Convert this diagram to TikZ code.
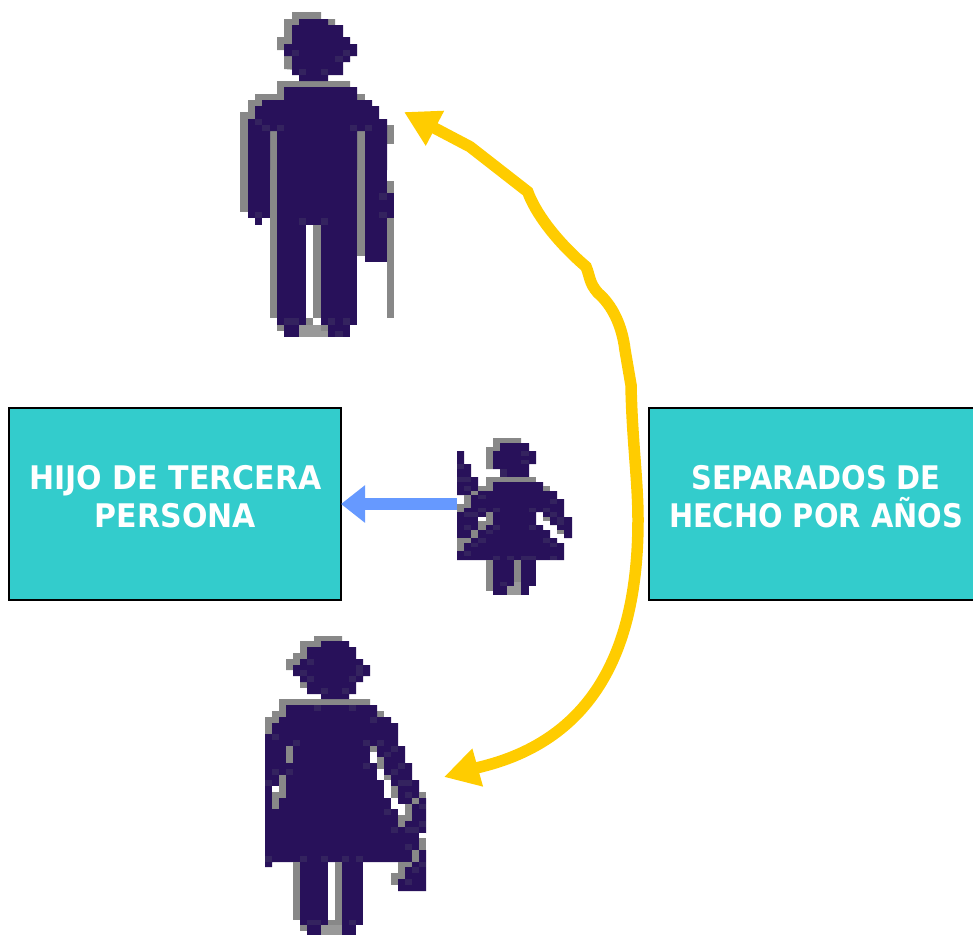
\documentclass[tikz,border=0pt]{standalone}
\usepackage{fontspec}
\setmainfont{DejaVu Sans}
\newfontfamily\leftboxfont[FakeStretch=0.923]{DejaVu Sans Bold}
\newfontfamily\rightboxfont[FakeStretch=0.889]{DejaVu Sans Bold}
\usetikzlibrary{arrows.meta}
\definecolor{ink}{HTML}{28115A}
\definecolor{pale}{HTML}{34235F}
\definecolor{edgegrey}{HTML}{888888}
\definecolor{sole}{HTML}{999999}
\definecolor{boxteal}{HTML}{33CCCC}
\definecolor{bluearrow}{HTML}{6699FF}
\definecolor{goldarrow}{HTML}{FFCC00}
\newcommand{\rects}[2]{\foreach \a/\b/\c/\d in {#2} {\fill[#1] (\a,\b) rectangle (\c,\d);}}
\tikzset{
  box/.style={draw=black,line width=1.6pt,fill=boxteal,inner sep=0pt,outer sep=0pt,anchor=north west},
  boxtext/.style={text=white,align=center,inner sep=0pt},
  goldline/.style={draw=goldarrow,line width=11.5pt,line join=miter,{Triangle[length=35pt,width=37pt,fill=goldarrow]}-{Triangle[length=35pt,width=37pt,fill=goldarrow]}},
  blueline/.style={draw=bluearrow,line width=12pt,-{Triangle[length=24pt,width=36pt,fill=bluearrow]}},
  crop/.style={x=0.33333pt,y=-0.33333pt}
}
\begin{document}
\begin{tikzpicture}[x=1pt,y=-1pt]
\useasboundingbox (0,0) rectangle (973,935);
\clip (0,0) rectangle (973,935);

% boxes
\node[box,minimum width=332pt,minimum height=192pt] (leftbox) at (9,408) {};
\node[box,minimum width=340pt,minimum height=192pt] (rightbox) at (649,408) {};
\node[boxtext,font=\leftboxfont\fontsize{32.5}{38}\selectfont] (lefttext) at (175.5,497) {HIJO DE TERCERA\\PERSONA};
\node[boxtext,font=\rightboxfont\fontsize{32.5}{38}\selectfont] (righttext) at (816,497) {SEPARADOS DE\\HECHO POR AÑOS};

% connector ends
\coordinate (girlhand) at (457,504);
\coordinate (mantip) at (404,112);
\coordinate (womantip) at (444,777);

% arrows
\draw[blueline] (girlhand) -- (leftbox.east);
\draw[goldline] (mantip) -- (470,146.7) -- (527.7,191.7)
  .. controls (535,212) and (555,240) .. (586,266.7)
  .. controls (590,276) and (589,283) .. (598,293)
  .. controls (612,305) and (622,325) .. (625,350)
  -- (631,385)
  .. controls (632,440) and (638,480) .. (638,520)
  .. controls (638,640) and (600,740) .. (476,768)
  -- (womantip);

% man, upper part
\begin{scope}[shift={(230,0)},crop]
\fill[edgegrey] (186,36)--(273,36)--(273,57)--(315,57)--(315,80)--(200,210)--(162,207)--(162,150)--(141,150)--(141,111)--(162,111)--(162,57)--(186,57)--cycle;
\fill[edgegrey] (141,243)--(360,243)--(360,261)--(162,261)--(162,300)--(96,300)--(96,318)--(75,318)--(75,357)--(54,357)--(54,510)--(30,510)--(30,336)--(54,336)--(54,300)--(75,300)--(75,282)--(141,282)--cycle;
\rects{edgegrey}{381/282/405/300,471/375/492/432,120/393/141/510,381/393/405/510}
\fill[ink] (207,57)--(294,57)--(294,75)--(339,75)--(339,111)--(360,111)--(360,132)--(381,132)--(381,168)--(360,168)--(360,186)--(339,186)--(339,225)--(294,225)--(294,243)--(207,243)--(207,225)--(186,225)--(186,168)--(162,168)--(162,132)--(186,132)--(186,75)--(207,75)--cycle;
\fill[ink] (162,261)--(381,261)--(381,300)--(426,300)--(426,318)--(447,318)--(447,357)--(471,357)--(471,510)--(405,510)--(405,393)--(381,393)--(381,510)--(141,510)--(141,393)--(120,393)--(120,510)--(54,510)--(54,357)--(75,357)--(75,318)--(96,318)--(96,300)--(162,300)--cycle;
\rects{pale}{186/150/207/168,339/150/360/168,315/168/339/186,207/207/228/225,273/207/294/225,75/357/96/375,96/375/120/393,141/375/162/393,360/375/381/393,405/375/426/393}
\end{scope}
% man, lower part
\begin{scope}[shift={(230,170)},crop]
\rects{edgegrey}{30/0/54/126,120/0/141/444,381/0/405/258,471/33/492/69,471/144/492/444,249/165/273/444,228/444/249/465,141/465/162/483}
\rects{sole}{207/465/294/500}
\rects{edgegrey}{273/465/294/483}
\rects{ink}{54/0/120/144,75/144/96/165,141/0/381/165,141/165/228/444,273/165/381/444,405/0/471/276,471/69/492/144,141/444/228/465,162/465/207/500,273/444/381/465,294/465/360/500}
\rects{pale}{447/69/471/90,447/126/471/144,75/126/96/144,207/144/228/165,273/144/294/165,162/444/207/465,294/444/315/465,339/444/360/465,315/483/339/500}
\end{scope}

% girl
\begin{scope}[shift={(440,430)},crop]
\fill[edgegrey] (159,24)--(243,24)--(243,45)--(200,100)--(159,117)--(138,117)--(138,51)--(159,51)--cycle;
\fill[ink] (180,39)--(267,39)--(267,63)--(288,63)--(288,102)--(267,102)--(267,141)--(180,141)--(180,117)--(159,117)--(159,63)--(180,63)--cycle;
\fill[ink] (51,63)--(72,63)--(72,102)--(93,102)--(93,141)--(114,141)--(114,168)--(159,168)--(159,156)--(309,156)--(309,183)--(351,183)--(351,207)--(372,207)--(372,261)--(396,261)--(396,324)--(372,324)--(372,300)--(351,300)--(351,285)--(330,285)--(330,261)--(309,261)--(309,246)--(288,246)--(288,285)--(309,285)--(309,300)--(330,300)--(330,324)--(351,324)--(351,339)--(372,339)--(372,390)--(51,390)--(51,363)--(72,363)--(72,339)--(93,339)--(93,324)--(51,324)--(51,246)--(72,246)--(72,234)--(93,234)--(93,195)--(51,195)--cycle;
\rects{edgegrey}{51/324/93/339,51/339/72/363,93/300/114/324,114/273/138/300,138/246/159/285,72/195/93/234,51/222/72/246,93/183/114/195,114/168/159/183,138/141/288/156,138/156/159/168,309/168/330/183,309/261/330/273,351/300/372/312,138/390/159/483,222/390/243/456}
\rects{white}{114/261/138/273}
\rects{sole}{201/468/243/495,222/456/243/468}
\rects{ink}{159/390/222/468,159/468/201/495,243/390/288/468,243/468/267/495}
\rects{pale}{51/102/72/117,51/141/93/156,72/168/93/183,114/195/138/207,330/207/351/222,114/234/138/246,159/234/180/246,267/234/288/246,309/234/330/246,72/246/114/261,330/246/351/261,351/261/372/285,72/285/93/300,159/285/180/300,267/285/288/300,138/300/159/312,114/324/138/339,309/324/330/339,93/339/114/351,330/339/351/351,72/363/93/378,159/378/180/390,201/378/222/390,243/378/288/390,330/378/351/390,180/456/201/468,243/63/267/78,243/90/267/102,180/117/201/141}
\end{scope}

% woman, upper part
\begin{scope}[shift={(255,630)},crop]
\fill[edgegrey] (177,18)--(261,18)--(261,40)--(200,100)--(114,120)--(93,120)--(93,87)--(114,87)--(114,69)--(135,69)--(135,33)--(177,33)--cycle;
\rects{edgegrey}{135/150/160/174}
\fill[edgegrey] (72,207)--(345,207)--(345,240)--(93,261)--(51,312)--(30,312)--(30,261)--(51,261)--(51,243)--(72,243)--cycle;
\rects{edgegrey}{366/243/387/261}
\fill[ink] (198,33)--(282,33)--(282,51)--(303,51)--(303,87)--(324,87)--(324,105)--(345,105)--(345,138)--(324,138)--(324,156)--(303,156)--(303,192)--(282,192)--(282,207)--(198,207)--(198,192)--(156,192)--(156,156)--(135,156)--(135,138)--(114,138)--(114,105)--(135,105)--(135,87)--(156,87)--(156,51)--(198,51)--cycle;
\fill[ink] (93,225)--(366,225)--(366,261)--(408,261)--(408,279)--(429,279)--(429,348)--(450,348)--(450,399)--(471,399)--(471,450)--(30,450)--(30,312)--(51,312)--(51,279)--(72,279)--(72,261)--(93,261)--cycle;
\rects{edgegrey}{93/348/114/399,72/435/93/450,345/348/366/366,366/381/387/417,387/435/408/450}
\rects{white}{345/366/366/399,366/417/387/450}
\rects{pale}{156/87/177/105,135/120/156/138,303/105/324/138,156/138/177/156,282/138/303/156,198/174/219/192,261/174/282/192,177/225/198/243,282/225/303/243,345/261/366/279,51/312/72/330,114/330/135/348,324/330/345/348,366/330/387/348,408/348/429/366,387/366/408/381,429/399/450/417,324/399/345/417,408/417/429/435,51/417/72/435,93/417/114/435}
\end{scope}
% woman, lower part
\begin{scope}[shift={(255,780)},crop]
\fill[ink] (30,0)--(492,0)--(492,54)--(513,54)--(513,160)--(492,160)--(492,210)--(513,210)--(513,333)--(429,333)--(429,297)--(450,297)--(450,261)--(471,261)--(471,246)--(51,246)--(51,261)--(30,261)--cycle;
\rects{edgegrey}{72/0/93/54,51/36/72/87,408/18/429/54,471/54/492/72,492/36/513/54,450/72/471/105,429/105/471/123,429/123/450/141,492/174/513/210,471/210/492/246,429/246/471/261,429/261/450/279,408/279/450/297,408/297/429/315,114/246/135/420,240/246/261/420,219/420/261/435,135/435/156/453}
\rects{white}{51/18/72/36,387/0/408/18,387/18/408/54,408/54/429/87,429/72/450/105,492/160/513/174}
\rects{sole}{198/435/261/465}
\rects{ink}{135/246/219/435,156/435/198/465,261/246/324/435,261/435/303/465}
\rects{pale}{30/0/51/18,429/0/471/18,450/36/471/54,492/72/513/87,387/87/408/105,492/123/513/141,408/141/429/159,450/141/492/159,450/192/471/210,30/228/51/246,135/228/156/246,198/228/219/246,261/228/282/246,303/228/324/246,492/246/513/261,471/261/492/279,450/297/471/315,156/420/198/435,282/420/303/435}
\end{scope}
\end{tikzpicture}
\end{document}
